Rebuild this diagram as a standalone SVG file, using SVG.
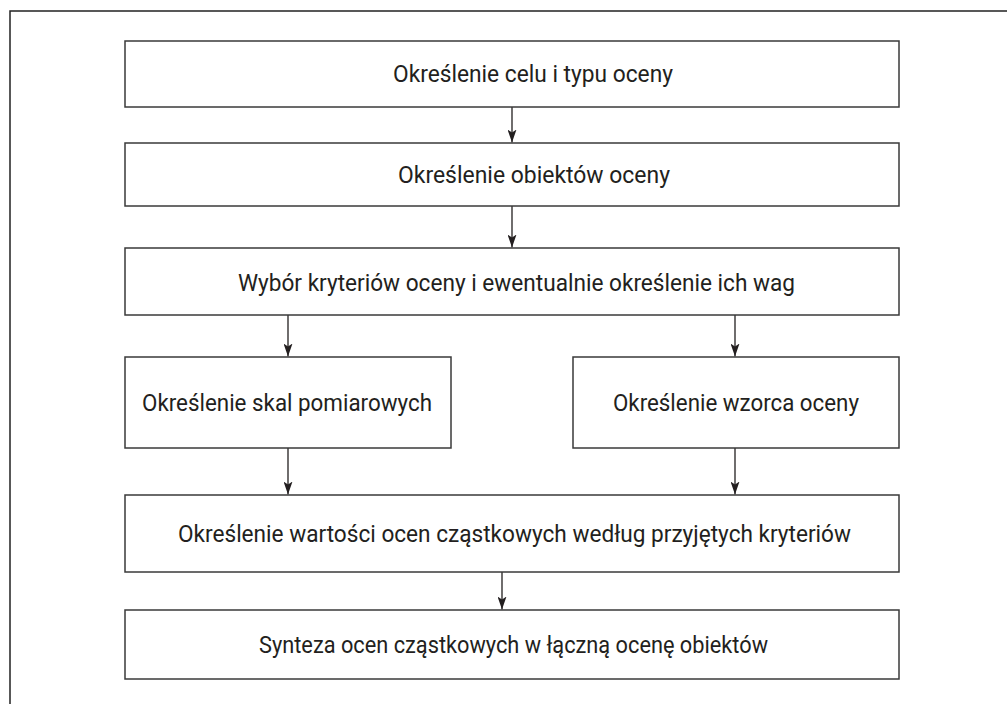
<svg xmlns="http://www.w3.org/2000/svg" width="1007" height="704" viewBox="0 0 1007 704">
  <style>
    .box { fill: #ffffff; stroke: #3a3a3a; stroke-width: 1.5; }
    .lbl { font-family: Roboto, "Liberation Sans", Arial, sans-serif; font-size: 23px; fill: #231f20; }
    .mid { text-anchor: middle; }
    .conn { stroke: #231f20; stroke-width: 1.3; fill: none; marker-end: url(#arrow); }
    .frame { stroke: #222; stroke-width: 1.5; fill: none; }
  </style>
  <defs>
    <!-- filled arrowhead, tip at the end of the line -->
    <marker id="arrow" markerWidth="13" markerHeight="9" refX="13" refY="4.5" orient="auto" markerUnits="userSpaceOnUse" viewBox="0 0 13 9">
      <path d="M0,0 L13,4.5 L0,9 L3,4.5 Z" fill="#231f20"/>
    </marker>
  </defs>
  <rect width="1007" height="704" fill="#ffffff"/>
  <!-- page frame: top and left rule -->
  <path class="frame" d="M10,704 L10,11 L1007,11"/>

  <g id="connectors">
    <line class="conn" x1="512" y1="107" x2="512" y2="142.5"/>
    <line class="conn" x1="512" y1="206" x2="512" y2="247.5"/>
    <line class="conn" x1="288" y1="315" x2="288" y2="356.5"/>
    <line class="conn" x1="735" y1="315" x2="735" y2="356.5"/>
    <line class="conn" x1="288" y1="448" x2="288" y2="494.5"/>
    <line class="conn" x1="735" y1="448" x2="735" y2="494.5"/>
    <line class="conn" x1="502" y1="572" x2="502" y2="609.5"/>
  </g>

  <g id="node-cel">
    <rect class="box" x="125" y="41" width="774" height="66"/>
    <text class="lbl" x="393" y="82" textLength="280" lengthAdjust="spacingAndGlyphs">Określenie celu i typu oceny</text>
  </g>
  <g id="node-obiekty">
    <rect class="box" x="125" y="143" width="774" height="63"/>
    <text class="lbl" x="398" y="183" textLength="272" lengthAdjust="spacingAndGlyphs">Określenie obiektów oceny</text>
  </g>
  <g id="node-kryteria">
    <rect class="box" x="125" y="248" width="774" height="67"/>
    <text class="lbl" x="238" y="291" textLength="557" lengthAdjust="spacingAndGlyphs">Wybór kryteriów oceny i ewentualnie określenie ich wag</text>
  </g>
  <g id="node-skale">
    <rect class="box" x="125" y="357" width="326" height="91"/>
    <text class="lbl" x="142" y="411" textLength="290" lengthAdjust="spacingAndGlyphs">Określenie skal pomiarowych</text>
  </g>
  <g id="node-wzorzec">
    <rect class="box" x="573" y="357" width="326" height="91"/>
    <text class="lbl" x="613" y="411" textLength="246" lengthAdjust="spacingAndGlyphs">Określenie wzorca oceny</text>
  </g>
  <g id="node-wartosci">
    <rect class="box" x="125" y="495" width="774" height="77"/>
    <text class="lbl" x="178" y="542" textLength="673" lengthAdjust="spacingAndGlyphs">Określenie wartości ocen cząstkowych według przyjętych kryteriów</text>
  </g>
  <g id="node-synteza">
    <rect class="box" x="125" y="610" width="774" height="69"/>
    <text class="lbl" x="259" y="653" textLength="509" lengthAdjust="spacingAndGlyphs">Synteza ocen cząstkowych w łączną ocenę obiektów</text>
  </g>
</svg>
